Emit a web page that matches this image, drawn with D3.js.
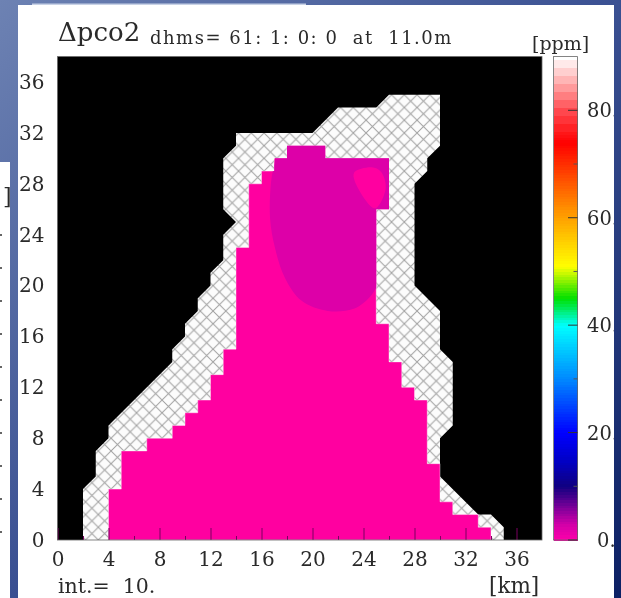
<!DOCTYPE html>
<html lang="en">
<head>
<meta charset="utf-8">
<title>Delta pco2</title>
<script src="https://d3js.org/d3.v7.min.js"></script>
<style>
  html, body { margin: 0; padding: 0; background: #1c3176; overflow: hidden; }
  svg { display: block; filter: blur(0.45px); }
  text { font-family: "DejaVu Serif", serif; fill: #2a2a2a; white-space: pre; }
  .tick text { font-family: "DejaVu Serif", serif; fill: #2a2a2a; }
  .domain { display: none; }
</style>
</head>
<body>
<svg width="621" height="598"></svg>
<script>
// outlines in km
const seaOutline = [[2,0],[2,4],[3,5],[3,7],[4,8],[4,9],[9,14],[9,15],[10,16],[10,17],[11,18],[11,19],[12,20],[12,21],[13,22],[13,24],[14,25],[13,26],[13,30],[14,31],[14,32],[20,32],[22,34],[25,34],[26,35],[30,35],[30,31],[29,30],[29,29],[28,28],[28,20],[30,18],[30,15],[31,14],[31,9],[30,8],[30,5],[33,2],[34,2],[35,1],[35,0]];
const lowOutline = [[4,0],[4,4],[5,4],[5,7],[7,7],[7,8],[9,8],[9,9],[10,9],[10,10],[11,10],[11,11],[12,11],[12,13],[13,13],[13,15],[14,15],[14,23],[15,23],[15,28],[16,28],[16,29],[17,29],[17,30],[18,30],[18,31],[21,31],[21,30],[26,30],[26,26],[25,26],[25,17],[26,17],[26,14],[27,14],[27,12],[28,12],[28,11],[29,11],[29,6],[30,6],[30,3],[31,3],[31,2],[33,2],[33,1],[34,1],[34,0]];
const contourEdge = [[17.0,31.5],[17.06,30],[16.75,28.17],[16.67,25.3],[17.06,22.95],[17.84,20.6],[19.15,18.8],[21.2,18],[23.3,18.2],[24.5,19.1],[25.03,19.9],[25.5,21]];
const contourRest = [[26.5,21],[26.5,31.5]];
const spotOutline = [[23.28,28.9],[24.64,29.3],[25.37,28.95],[25.74,27.65],[24.9,26.07],[23.33,28.17]];

const majorTicks = [0,4,8,12,16,20,24,28,32,36];
const minorTicks = [2,6,10,14,18,22,26,30,34];
const barTicks = [0,20,40,60,80];
const barMinor = [10,30,50,70];
const barValues = [0,3,6,10,15,20,30,40,45,48,51,62,74,80,85,90];
const barColors = ["#ff00aa","#d000a8","#80009a","#100080","#0000c8","#0000ff","#0088ff","#00ffff","#00e000","#80f000","#ffff00","#ff8c00","#ff0000","#ff4a50","#ffa8a8","#ffffff"];
const sideDots = [235,268,301,334,367,400,433,466,499,532];

const svg = d3.select("svg");
const x = d3.scaleLinear().domain([0,38]).range([57.5,542]);
const y = d3.scaleLinear().domain([0,38]).range([540,56.6]);
const barY = d3.scaleLinear().domain([0,90]).range([540,56.6]);
const barColor = d3.scaleLinear().domain(barValues).range(barColors);
const path = d3.line().x(d => x(d[0])).y(d => y(d[1]));

// backdrop
const defs = svg.append("defs");
const bg = defs.append("linearGradient").attr("id","bg")
  .attr("x1",0).attr("y1",0).attr("x2",1).attr("y2",1);
bg.append("stop").attr("offset",0).attr("stop-color","#6d82b3");
bg.append("stop").attr("offset",0.5).attr("stop-color","#3a5092");
bg.append("stop").attr("offset",1).attr("stop-color","#0c2064");
svg.append("rect").attr("width",621).attr("height",598).attr("fill","url(#bg)");

// the slide peeking out on the left
svg.append("rect").attr("x",0).attr("y",162).attr("width",10).attr("height",436).attr("fill","#fff");
svg.append("text").attr("x",3).attr("y",204).attr("font-size",22).text("]");
svg.selectAll(".dot").data(sideDots).enter().append("circle")
  .attr("class","dot").attr("cx",1).attr("cy",d => d).attr("r",1).attr("fill","#333");

// main panel
svg.append("rect").attr("x",32).attr("y",3.5).attr("width",274).attr("height",1.5).attr("fill","#c8d2e6");
svg.append("rect").attr("x",18).attr("y",5).attr("width",596).attr("height",593).attr("fill","#fff");

// hatch for the open sea
const cellW = x(1) - x(0), cellH = y(0) - y(1);
const hatch = defs.append("pattern").attr("id","hatch").attr("patternUnits","userSpaceOnUse")
  .attr("x",x(0.2)).attr("y",y(0)).attr("width",cellW).attr("height",cellH);
hatch.append("rect").attr("width",cellW).attr("height",cellH).attr("fill","#fcfcfc");
hatch.append("path").attr("d",`M0,0L${cellW},${cellH}M${cellW},0L0,${cellH}`)
  .attr("stroke","#a0a0a0").attr("stroke-width",1);

defs.append("clipPath").attr("id","low").append("path").attr("d",path(lowOutline)+"Z");

// map
svg.append("rect").attr("x",x(0)).attr("y",y(38)).attr("width",x(38)-x(0)).attr("height",y(0)-y(38)).attr("fill","#000");
svg.append("path").attr("d",path(seaOutline)+"Z").attr("fill","url(#hatch)");
svg.append("path").attr("d",path(lowOutline)+"Z").attr("fill","#ff00a0").attr("stroke","#fff").attr("stroke-width",0.4);

const smooth = d3.line().x(d => x(d[0])).y(d => y(d[1])).curve(d3.curveCatmullRom);
const map = svg.append("g").attr("clip-path","url(#low)");
map.append("path").attr("fill","#dd00a8")
  .attr("d",smooth(contourEdge)+path(contourRest).replace("M","L")+"Z");
map.append("path").attr("fill","#ff00a0")
  .attr("d",d3.line().x(d => x(d[0])).y(d => y(d[1])).curve(d3.curveCatmullRomClosed)(spotOutline));

// axes
svg.append("g").attr("transform",`translate(0,${y(0)})`)
  .call(d3.axisBottom(x).tickValues(minorTicks).tickSize(-4).tickFormat(""))
  .selectAll("line").attr("stroke","#7a0060");
const xAxis = svg.append("g").attr("transform",`translate(0,${y(0)})`)
  .call(d3.axisBottom(x).tickValues(majorTicks).tickSize(-12).tickPadding(12));
xAxis.selectAll("line").attr("stroke","#7a0060");
xAxis.selectAll("text").attr("font-size",20);

const yAxis = svg.append("g").attr("transform",`translate(${x(0)},0)`)
  .call(d3.axisLeft(y).tickValues(majorTicks).tickSize(0).tickPadding(13));
yAxis.selectAll("text").attr("font-size",20);

svg.append("rect").attr("x",x(0)).attr("y",y(38)).attr("width",x(38)-x(0)).attr("height",y(0)-y(38))
  .attr("fill","none").attr("stroke","#666").attr("stroke-width",0.8);

// colour bar, smooth low down and stepped near the top
const barBands = d3.range(0,76,0.5).map(d => [d,d+0.5]).concat(d3.range(76,90,1.5).map(d => [d,d+1.5]));
svg.selectAll(".band").data(barBands).enter().append("rect")
  .attr("class","band").attr("x",553.5).attr("width",24)
  .attr("y",d => barY(d[1])).attr("height",d => barY(d[0])-barY(d[1])+0.5)
  .attr("shape-rendering","crispEdges")
  .attr("fill",d => barColor((d[0]+d[1])/2));
svg.append("rect").attr("x",553.5).attr("y",barY(90)).attr("width",24).attr("height",barY(0)-barY(90))
  .attr("fill","none").attr("stroke","#666").attr("stroke-width",0.8);
svg.selectAll(".barminor").data(barMinor).enter().append("line").attr("class","barminor")
  .attr("x1",573.5).attr("x2",577.5).attr("y1",d => barY(d)).attr("y2",d => barY(d)).attr("stroke","#555");
svg.selectAll(".barmajor").data(barTicks).enter().append("line").attr("class","barmajor")
  .attr("x1",568).attr("x2",577.5).attr("y1",d => barY(d)).attr("y2",d => barY(d)).attr("stroke","#333");

defs.append("clipPath").attr("id","panel").append("rect").attr("x",18).attr("y",5).attr("width",596).attr("height",593);
svg.append("g").attr("clip-path","url(#panel)")
  .selectAll("text").data(barTicks).enter().append("text")
  .attr("x",d => d === 0 ? 597 : 587).attr("y",d => barY(d)+7).attr("font-size",19.5).text(d => d + ".");

// titles
svg.append("text").attr("x",58).attr("y",41).attr("font-size",26).text("Δpco2");
svg.append("text").attr("x",150).attr("y",44).attr("font-size",18).attr("letter-spacing",1.5).text("dhms= 61: 1: 0: 0  at  11.0m");
svg.append("text").attr("x",532).attr("y",50).attr("font-size",19).text("[ppm]");
svg.append("text").attr("x",58).attr("y",593).attr("font-size",20.5).text("int.=  10.");
svg.append("text").attr("x",489).attr("y",593).attr("font-size",21.5).text("[km]");
</script>
</body>
</html>
